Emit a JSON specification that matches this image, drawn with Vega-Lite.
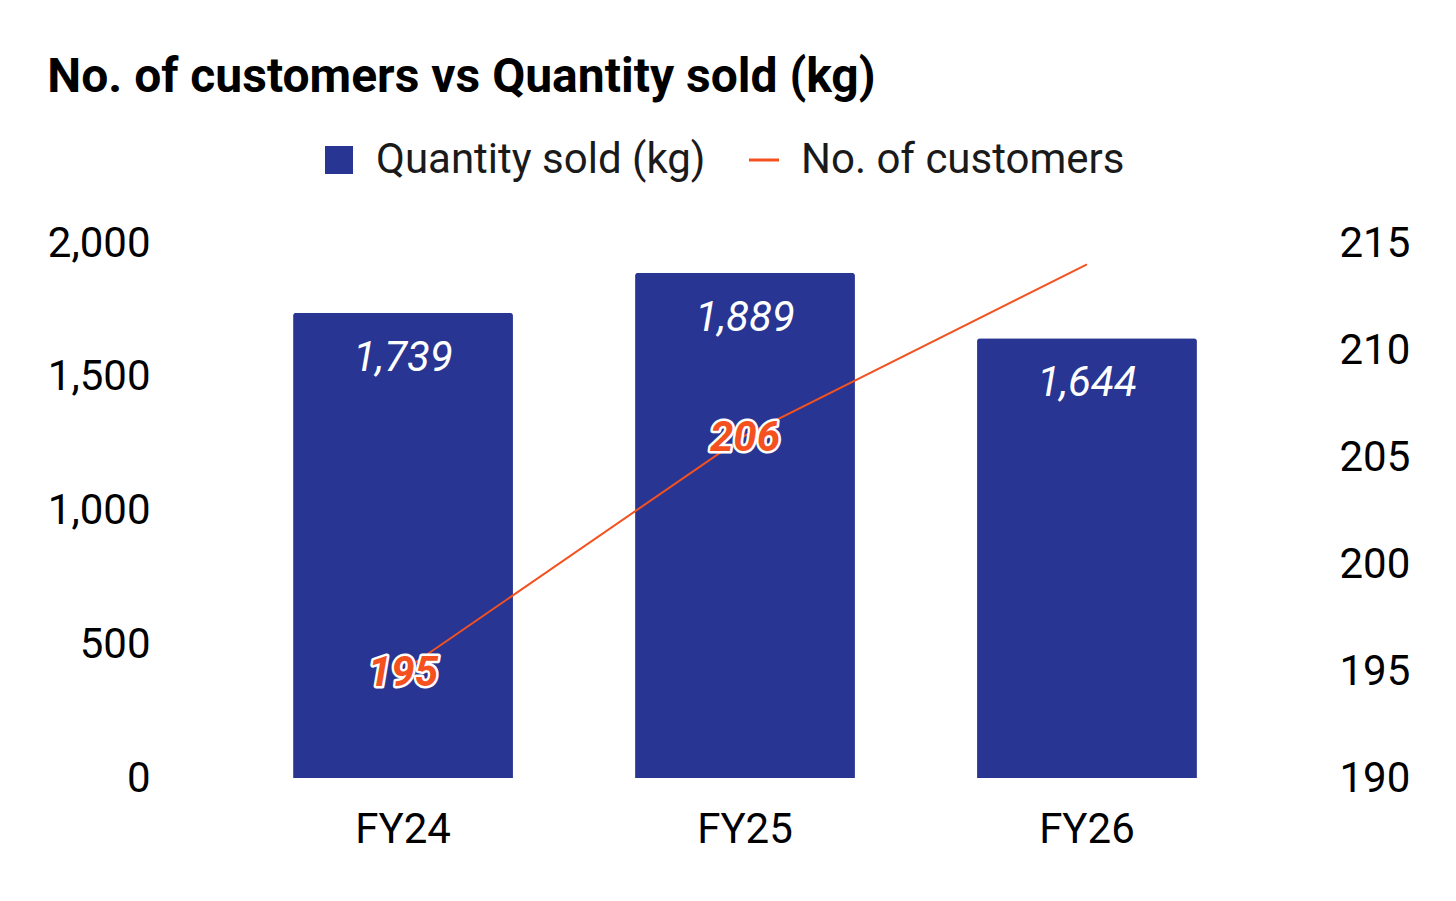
{
  "$schema": "https://vega.github.io/schema/vega-lite/v6.json",
  "width": 1160,
  "height": 535,
  "autosize": {"type": "none"},
  "padding": {"left": 165, "top": 243, "right": 131, "bottom": 123},
  "background": "white",
  "config": {
    "font": "Roboto",
    "view": {"stroke": null},
    "axis": {
      "grid": false,
      "domain": false,
      "ticks": false,
      "tickSize": 0,
      "labelFont": "Roboto",
      "labelFontSize": 42,
      "labelColor": "#000000",
      "title": null
    },
    "legend": {
      "orient": "none",
      "direction": "horizontal",
      "padding": 0,
      "labelFont": "Roboto",
      "labelFontSize": 42,
      "labelColor": "#1a1a1a",
      "labelLimit": 0,
      "title": null
    }
  },
  "title": {
    "text": "No. of customers vs Quantity sold (kg)",
    "anchor": "start",
    "frame": "bounds",
    "font": "Roboto",
    "fontSize": 48,
    "fontWeight": "bold",
    "color": "#000000",
    "offset": 37
  },
  "data": {
    "values": [
      {"period": "FY24", "quantity": 1739, "customers": 195},
      {"period": "FY25", "quantity": 1889, "customers": 206},
      {"period": "FY26", "quantity": 1644, "customers": 214}
    ]
  },
  "encoding": {
    "x": {
      "field": "period",
      "type": "nominal",
      "sort": null,
      "scale": {"type": "band", "paddingInner": 0.357, "paddingOuter": 0.3745},
      "axis": {"labelAngle": 0, "labelPadding": 31}
    }
  },
  "layer": [
    {
      "encoding": {
        "y": {
          "field": "quantity",
          "type": "quantitative",
          "scale": {"domain": [0, 2000], "nice": false},
          "axis": {"orient": "left", "values": [0, 500, 1000, 1500, 2000], "format": ",.0f", "labelPadding": 15}
        }
      },
      "layer": [
        {
          "mark": {"type": "bar", "cornerRadiusTopLeft": 3, "cornerRadiusTopRight": 3},
          "encoding": {
            "fill": {
              "datum": "Quantity sold (kg)",
              "type": "nominal",
              "scale": {"range": ["#283593"]},
              "legend": {"symbolType": "square", "symbolSize": 784, "symbolStrokeWidth": 0, "labelOffset": 16, "legendX": 153, "legendY": -104}
            }
          }
        },
        {
          "mark": {"type": "text", "color": "white", "fontSize": 42, "fontStyle": "italic", "baseline": "alphabetic", "dy": 58},
          "encoding": {
            "text": {"field": "quantity", "type": "quantitative", "format": ",.0f"}
          }
        }
      ]
    },
    {
      "encoding": {
        "y": {
          "field": "customers",
          "type": "quantitative",
          "scale": {"domain": [190, 215], "nice": false, "zero": false},
          "axis": {"orient": "right", "values": [190, 195, 200, 205, 210, 215], "format": ".0f", "labelPadding": 14}
        }
      },
      "layer": [
        {
          "mark": {"type": "line", "strokeWidth": 2},
          "encoding": {
            "stroke": {
              "datum": "No. of customers",
              "type": "nominal",
              "scale": {"range": ["#F4511E"]},
              "legend": {"symbolType": "stroke", "symbolSize": 900, "symbolStrokeWidth": 3, "labelOffset": 16, "legendX": 578, "legendY": -104}
            }
          }
        },
        {
          "transform": [{"filter": "datum.period != 'FY26'"}],
          "mark": {"type": "text", "fill": "white", "stroke": "white", "strokeWidth": 5, "strokeJoin": "round", "fontSize": 42, "fontStyle": "italic", "fontWeight": "bold", "baseline": "alphabetic", "dy": 15},
          "encoding": {
            "text": {"field": "customers", "type": "quantitative", "format": ".0f"}
          }
        },
        {
          "transform": [{"filter": "datum.period != 'FY26'"}],
          "mark": {"type": "text", "fill": "#F4511E", "fontSize": 42, "fontStyle": "italic", "fontWeight": "bold", "baseline": "alphabetic", "dy": 15},
          "encoding": {
            "text": {"field": "customers", "type": "quantitative", "format": ".0f"}
          }
        }
      ]
    }
  ],
  "resolve": {"scale": {"y": "independent"}}
}
